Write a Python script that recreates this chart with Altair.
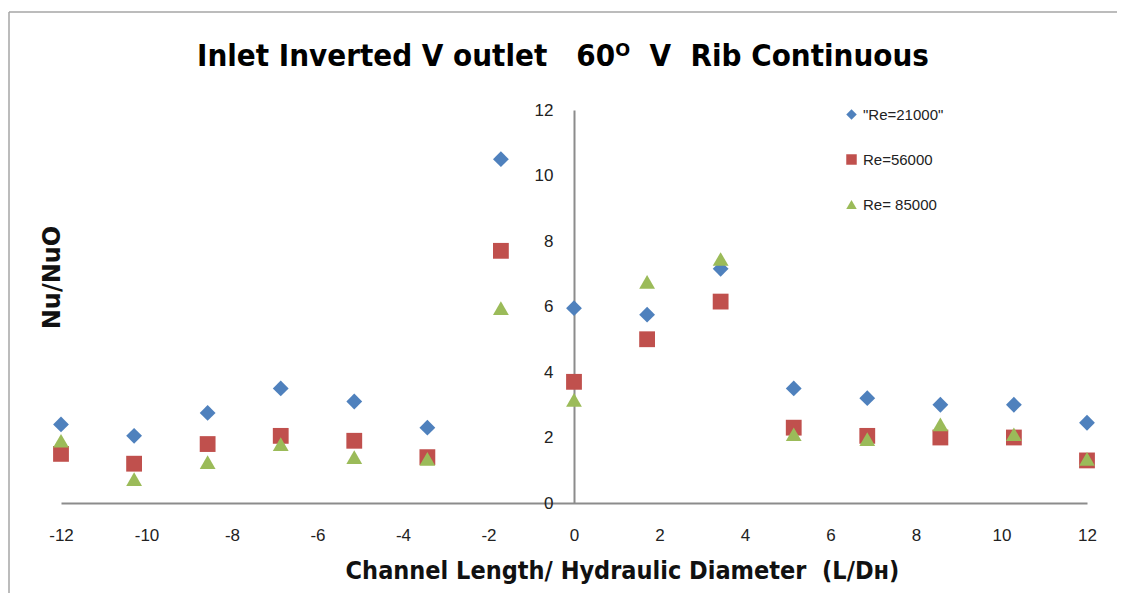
import altair as alt
import pandas as pd

# ---- data ----
x_pos = [-12, -10.29, -8.57, -6.86, -5.14, -3.43, -1.71, 0, 1.71, 3.43, 5.14, 6.86, 8.57, 10.29, 12]
re_21000 = [2.4, 2.05, 2.75, 3.5, 3.1, 2.3, 10.5, 5.95, 5.75, 7.15, 3.5, 3.2, 3.0, 3.0, 2.45]
re_56000 = [1.5, 1.2, 1.8, 2.05, 1.9, 1.4, 7.7, 3.7, 5.0, 6.15, 2.3, 2.05, 2.0, 2.0, 1.3]
re_85000 = [1.9, 0.73, 1.25, 1.8, 1.4, 1.35, 5.95, 3.15, 6.75, 7.45, 2.1, 1.95, 2.4, 2.1, 1.35]
series_names = ['"Re=21000"', 'Re=56000', 'Re= 85000']
series_colors = ['#4F81BD', '#C0504D', '#9BBB59']
series_shapes = ['diamond', 'square', 'triangle-up']
x_ticks = [-12, -10, -8, -6, -4, -2, 0, 2, 4, 6, 8, 10, 12]
y_ticks = [0, 2, 4, 6, 8, 10, 12]

rows = []
for name, vals in zip(series_names, [re_21000, re_56000, re_85000]):
    for xv, yv in zip(x_pos, vals):
        rows.append({"x": xv, "y": yv, "series": name})
df = pd.DataFrame(rows)

NARROW = "'DejaVu Sans Condensed', 'Liberation Sans Narrow', sans-serif"
REG = "'Liberation Sans', Arial, sans-serif"

W, H = 1026, 393

points = alt.Chart(df).mark_point(filled=True, opacity=1, size=250, strokeWidth=0).encode(
    x=alt.X("x:Q",
            scale=alt.Scale(domain=[-12, 12], nice=False, zero=False),
            axis=alt.Axis(values=x_ticks, grid=False, ticks=False, tickSize=0,
                          domainColor="#8c8c8c", domainWidth=2,
                          labelFont=REG, labelFontSize=17, labelColor="#222222",
                          labelPadding=24, labelFlush=False,
                          labelExpr="'' + datum.value",
                          title="Channel Length/ Hydraulic Diameter\u00a0\u00a0(L/D\u029c)",
                          titleFont=NARROW, titleFontSize=25, titleFontWeight="bold",
                          titleColor="#111111", titleX=561, titleY=67,
                          titleAlign="center", titleBaseline="middle")),
    y=alt.Y("y:Q",
            scale=alt.Scale(domain=[0, 12], nice=False),
            axis=alt.Axis(values=y_ticks, grid=False, ticks=False, tickSize=0,
                          offset=-513,
                          domainColor="#8c8c8c", domainWidth=2,
                          labelFont=REG, labelFontSize=17, labelColor="#222222",
                          labelPadding=21, labelAlign="right", labelBaseline="middle",
                          labelFlush=False,
                          labelExpr="'' + datum.value",
                          title="Nu/NuO", titleFont="'DejaVu Sans', sans-serif",
                          titleFontSize=24, titleFontWeight="bold", titleColor="#111111",
                          titleX=-522, titleY=167, titleAngle=270,
                          titleAlign="center", titleBaseline="middle")),
    color=alt.Color("series:N",
                    scale=alt.Scale(domain=series_names, range=series_colors),
                    legend=alt.Legend(orient="none", legendX=783, legendY=-3, title=None,
                                      symbolSize=110, labelFont=REG, labelFontSize=15,
                                      labelColor="#222222", rowPadding=29, labelOffset=4,
                                      padding=0)),
    shape=alt.Shape("series:N",
                    scale=alt.Scale(domain=series_names, range=series_shapes)),
)

frame_df = pd.DataFrame({"a": [0]})
top_border = alt.Chart(frame_df).mark_rule(color="#a6a6a6", strokeWidth=1.5).encode(
    x=alt.value(-52), x2=alt.value(W + 30), y=alt.value(-98))
left_border = alt.Chart(frame_df).mark_rule(color="#a6a6a6", strokeWidth=1.5).encode(
    x=alt.value(-52), y=alt.value(-98), y2=alt.value(H + 90))

chart = alt.layer(top_border, left_border, points).properties(
    width=W, height=H,
    background="white",
    padding={"left": 53, "top": 102, "right": 30, "bottom": 90},
    autosize=alt.AutoSizeParams(type="none"),
    title=alt.TitleParams(
        text="Inlet Inverted V outlet\u00a0\u00a0 60\u1d3c\u00a0 V\u00a0 Rib Continuous",
        font=NARROW, fontSize=31, fontWeight="bold", color="#000000",
        anchor="middle", frame="group", orient="top", baseline="middle",
        offset=-77, dx=-11),
).configure_view(stroke="transparent", strokeWidth=0)

chart.save("out.html", embed_options={"renderer": "svg", "actions": False})
